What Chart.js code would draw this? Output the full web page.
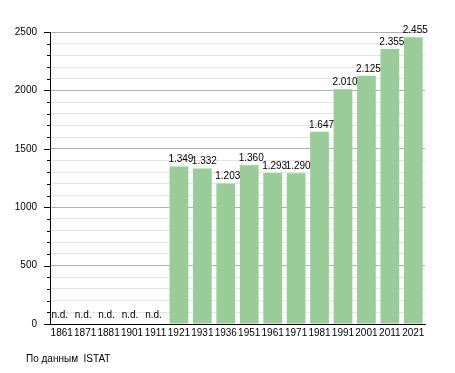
<!DOCTYPE html>
<html>
<head>
<meta charset="utf-8">
<script src="https://cdn.jsdelivr.net/npm/chart.js@4/dist/chart.umd.min.js"></script>
<style>
html,body{margin:0;padding:0;background:#fff;}
#wrap{position:relative;width:455px;height:373px;}
</style>
</head>
<body>
<div id="wrap"><canvas id="c" width="455" height="373"></canvas></div>
<script>
const categories = ["1861","1871","1881","1901","1911","1921","1931","1936","1951","1961","1971","1981","1991","2001","2011","2021"];
const population = [null,null,null,null,null,1349,1332,1203,1360,1293,1290,1647,2010,2125,2355,2455];
const yMax = 2500;
const yStep = 100;
const majorStep = 500;
const missingLabel = "n.d.";
const sourceText = "По данным  ISTAT";

const SANS = '"Liberation Sans", Arial, sans-serif';

function fmt(v){ return String(v).replace(/\B(?=(\d{3})+(?!\d))/g, '.'); }

const overlay = {
  id: 'overlay',
  afterDatasetsDraw(chart){
    const ctx = chart.ctx;
    const xs = chart.scales.x, ys = chart.scales.y;
    const meta = chart.getDatasetMeta(0);
    ctx.save();
    ctx.fillStyle = '#000';
    ctx.font = '10px ' + SANS;
    ctx.textAlign = 'center';
    ctx.textBaseline = 'alphabetic';
    population.forEach((v, i) => {
      const x = xs.getPixelForValue(i);
      if (v === null) {
        ctx.fillText(missingLabel, x - 2, ys.getPixelForValue(0) - 6);
      } else {
        const el = meta.data[i];
        ctx.fillText(fmt(v), el.x + 2, el.y - 4);
      }
    });
    ctx.restore();
  },
  afterDraw(chart){
    const ctx = chart.ctx;
    const ys = chart.scales.y;
    const left = chart.chartArea.left;
    ctx.save();
    ctx.strokeStyle = '#000';
    ctx.lineWidth = 1;
    ys.ticks.forEach(t => {
      const y = Math.round(ys.getPixelForValue(t.value)) + 0.5;
      const len = (t.value % majorStep === 0) ? 6 : 3;
      ctx.beginPath();
      ctx.moveTo(left - len, y);
      ctx.lineTo(left, y);
      ctx.stroke();
    });
    ctx.fillStyle = '#000';
    ctx.font = '10px ' + SANS;
    ctx.textAlign = 'left';
    ctx.textBaseline = 'alphabetic';
    ctx.fillText(sourceText, 26, 362);
    ctx.restore();
  }
};

new Chart(document.getElementById('c'), {
  type: 'bar',
  data: {
    labels: categories,
    datasets: [{
      data: population,
      backgroundColor: '#99cc99',
      borderWidth: 0,
      barPercentage: 0.8,
      categoryPercentage: 1.0
    }]
  },
  options: {
    responsive: false,
    animation: false,
    devicePixelRatio: 1,
    layout: { padding: { left: 0, right: 30, top: 32, bottom: 0 } },
    plugins: { legend: { display: false }, tooltip: { enabled: false }, title: { display: false } },
    scales: {
      x: {
        grid: { display: false, drawTicks: false },
        border: { display: true, color: '#000', width: 1 },
        ticks: { color: '#000', font: { family: SANS, size: 10 }, padding: 3, maxRotation: 0, autoSkip: false },
        afterFit(s){ s.height = 49; }
      },
      y: {
        min: 0, max: yMax,
        grid: {
          drawTicks: false,
          color: c => (c.tick && c.tick.value % majorStep === 0) ? '#b0b0b0' : '#e4e4e4',
          lineWidth: 1
        },
        border: { display: true, color: '#000', width: 1 },
        ticks: {
          stepSize: yStep, autoSkip: false, color: '#000', padding: 13,
          font: { family: SANS, size: 10 },
          callback: v => (v % majorStep === 0) ? String(v) : ''
        },
        afterFit(s){ s.width = 50; }
      }
    }
  },
  plugins: [overlay]
});
</script>
</body>
</html>
